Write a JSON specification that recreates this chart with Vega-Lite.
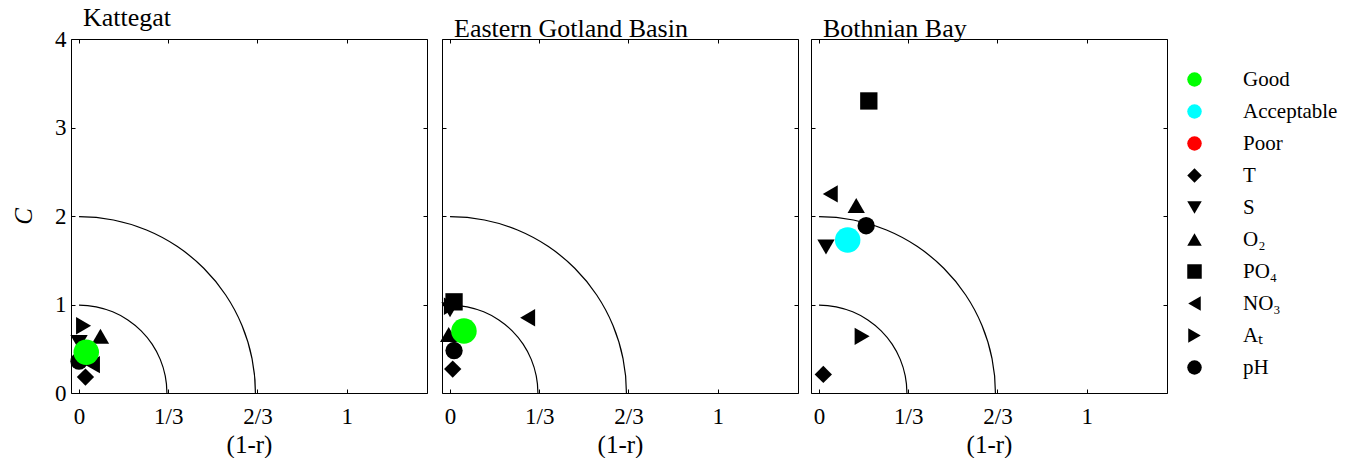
{
  "$schema": "https://vega.github.io/schema/vega-lite/v6.json",
  "padding": {"left": 11, "top": 4, "right": 0, "bottom": 0},
  "background": "white",
  "datasets": {
    "vars": [
      {"basin": "Kattegat", "series": "T", "x": 0.024, "y": 0.18},
      {"basin": "Kattegat", "series": "S", "x": 0.0, "y": 0.57},
      {"basin": "Kattegat", "series": "O₂", "x": 0.08, "y": 0.64},
      {"basin": "Kattegat", "series": "PO₄", "x": 0.03, "y": 0.45},
      {"basin": "Kattegat", "series": "NO₃", "x": 0.05, "y": 0.32},
      {"basin": "Kattegat", "series": "Aₜ", "x": 0.017, "y": 0.76},
      {"basin": "Kattegat", "series": "pH", "x": 0.0, "y": 0.36},
      {"basin": "Eastern Gotland Basin", "series": "T", "x": 0.01, "y": 0.27},
      {"basin": "Eastern Gotland Basin", "series": "S", "x": 0.0, "y": 0.94},
      {"basin": "Eastern Gotland Basin", "series": "O₂", "x": -0.005, "y": 0.66},
      {"basin": "Eastern Gotland Basin", "series": "PO₄", "x": 0.015, "y": 1.03},
      {"basin": "Eastern Gotland Basin", "series": "NO₃", "x": 0.29, "y": 0.85},
      {"basin": "Eastern Gotland Basin", "series": "Aₜ", "x": 0.005, "y": 0.98},
      {"basin": "Eastern Gotland Basin", "series": "pH", "x": 0.015, "y": 0.48},
      {"basin": "Bothnian Bay", "series": "T", "x": 0.016, "y": 0.21},
      {"basin": "Bothnian Bay", "series": "S", "x": 0.026, "y": 1.65},
      {"basin": "Bothnian Bay", "series": "O₂", "x": 0.139, "y": 2.12},
      {"basin": "Bothnian Bay", "series": "PO₄", "x": 0.186, "y": 3.3},
      {"basin": "Bothnian Bay", "series": "NO₃", "x": 0.042, "y": 2.25},
      {"basin": "Bothnian Bay", "series": "Aₜ", "x": 0.161, "y": 0.64},
      {"basin": "Bothnian Bay", "series": "pH", "x": 0.176, "y": 1.89}
    ],
    "status": [
      {"basin": "Kattegat", "series": "Good", "x": 0.027, "y": 0.46},
      {"basin": "Eastern Gotland Basin", "series": "Good", "x": 0.052, "y": 0.7},
      {"basin": "Bothnian Bay", "series": "Acceptable", "x": 0.107, "y": 1.73}
    ],
    "rings": [{"r": 1}, {"r": 2}]
  },
  "hconcat": [
    {
      "title": {"text": "Kattegat"},
      "width": 356, "height": 354,
      "resolve": {"axis": {"x": "independent", "y": "independent"}},
      "layer": [
        {
          "data": {"name": "rings"},
          "mark": {"type": "arc", "theta": 0, "theta2": 1.5707963, "radius2Offset": -1.2, "fill": "#000", "stroke": null},
          "encoding": {
            "x": {"datum": 0, "type": "quantitative", "scale": {"domain": [-0.03, 1.3]}, "axis": null},
            "y": {"datum": 0, "type": "quantitative", "scale": {"domain": [0, 4]}, "axis": null},
            "radius": {"field": "r", "type": "quantitative", "scale": {"type": "linear", "domain": [0, 4], "range": [0, 354], "zero": true}},
            "radius2": {"field": "r"}
          }
        },
        {
          "data": {"name": "vars"},
          "transform": [{"filter": "datum.basin === 'Kattegat'"}],
          "mark": {"type": "point", "filled": true, "size": 300, "opacity": 1},
          "encoding": {
            "x": {"field": "x", "type": "quantitative", "scale": {"domain": [-0.03, 1.3]},
              "axis": {"orient": "bottom", "values": [0, 0.33333333, 0.66666667, 1], "labelExpr": "datum.value < 0.1 ? '0' : datum.value < 0.5 ? '1/3' : datum.value < 0.9 ? '2/3' : '1'", "title": "(1-r)",
                "labelFont": "Liberation Serif", "labelFontSize": 23, "labelColor": "#000000", "labelPadding": 16,
                "titleFont": "Liberation Serif", "titleFontSize": 25, "titleColor": "#000000", "titleFontWeight": "normal", "titlePadding": 4}},
            "y": {"field": "y", "type": "quantitative", "scale": {"domain": [0, 4]},
              "axis": {"orient": "left", "values": [0, 1, 2, 3, 4], "title": "C", "titleFontStyle": "italic",
                "labelFont": "Liberation Serif", "labelFontSize": 23, "labelColor": "#000000", "labelPadding": 9,
                "titleFont": "Liberation Serif", "titleFontSize": 25, "titleColor": "#000000", "titleFontWeight": "normal", "titlePadding": 18}},
            "color": {"field": "series", "type": "nominal",
              "scale": {"domain": ["Good", "Acceptable", "Poor", "T", "S", "O₂", "PO₄", "NO₃", "Aₜ", "pH"], "range": ["#00ff00", "#00ffff", "#ff0000", "#000000", "#000000", "#000000", "#000000", "#000000", "#000000", "#000000"]},
              "legend": {"title": null}},
            "shape": {"field": "series", "type": "nominal",
              "scale": {"domain": ["Good", "Acceptable", "Poor", "T", "S", "O₂", "PO₄", "NO₃", "Aₜ", "pH"], "range": ["circle", "circle", "circle", "diamond", "triangle-down", "triangle-up", "square", "triangle-left", "triangle-right", "circle"]},
              "legend": {"title": null}}
          }
        },
        {
          "data": {"name": "status"},
          "transform": [{"filter": "datum.basin === 'Kattegat'"}],
          "mark": {"type": "point", "filled": true, "size": 650, "opacity": 1},
          "encoding": {
            "x": {"field": "x", "type": "quantitative", "scale": {"domain": [-0.03, 1.3]},
              "axis": {"orient": "top", "values": [0, 0.33333333, 0.66666667, 1], "labels": false, "title": null, "minExtent": 0, "maxExtent": 0}},
            "y": {"field": "y", "type": "quantitative", "scale": {"domain": [0, 4]},
              "axis": {"orient": "right", "values": [0, 1, 2, 3, 4], "labels": false, "title": null, "minExtent": 0, "maxExtent": 0}},
            "color": {"field": "series", "type": "nominal"},
            "shape": {"field": "series", "type": "nominal"}
          }
        }
      ]
    },
    {
      "title": {"text": "Eastern Gotland Basin"},
      "width": 356, "height": 354,
      "resolve": {"axis": {"x": "independent", "y": "independent"}},
      "layer": [
        {
          "data": {"name": "rings"},
          "mark": {"type": "arc", "theta": 0, "theta2": 1.5707963, "radius2Offset": -1.2, "fill": "#000", "stroke": null},
          "encoding": {
            "x": {"datum": 0, "type": "quantitative", "scale": {"domain": [-0.03, 1.3]}, "axis": null},
            "y": {"datum": 0, "type": "quantitative", "scale": {"domain": [0, 4]}, "axis": null},
            "radius": {"field": "r", "type": "quantitative", "scale": {"type": "linear", "domain": [0, 4], "range": [0, 354], "zero": true}},
            "radius2": {"field": "r"}
          }
        },
        {
          "data": {"name": "vars"},
          "transform": [{"filter": "datum.basin === 'Eastern Gotland Basin'"}],
          "mark": {"type": "point", "filled": true, "size": 300, "opacity": 1},
          "encoding": {
            "x": {"field": "x", "type": "quantitative", "scale": {"domain": [-0.03, 1.3]},
              "axis": {"orient": "bottom", "values": [0, 0.33333333, 0.66666667, 1], "labelExpr": "datum.value < 0.1 ? '0' : datum.value < 0.5 ? '1/3' : datum.value < 0.9 ? '2/3' : '1'", "title": "(1-r)",
                "labelFont": "Liberation Serif", "labelFontSize": 23, "labelColor": "#000000", "labelPadding": 16,
                "titleFont": "Liberation Serif", "titleFontSize": 25, "titleColor": "#000000", "titleFontWeight": "normal", "titlePadding": 4}},
            "y": {"field": "y", "type": "quantitative", "scale": {"domain": [0, 4]},
              "axis": {"orient": "left", "values": [0, 1, 2, 3, 4], "labels": false, "title": null, "minExtent": 0, "maxExtent": 0}},
            "color": {"field": "series", "type": "nominal"},
            "shape": {"field": "series", "type": "nominal"}
          }
        },
        {
          "data": {"name": "status"},
          "transform": [{"filter": "datum.basin === 'Eastern Gotland Basin'"}],
          "mark": {"type": "point", "filled": true, "size": 650, "opacity": 1},
          "encoding": {
            "x": {"field": "x", "type": "quantitative", "scale": {"domain": [-0.03, 1.3]},
              "axis": {"orient": "top", "values": [0, 0.33333333, 0.66666667, 1], "labels": false, "title": null, "minExtent": 0, "maxExtent": 0}},
            "y": {"field": "y", "type": "quantitative", "scale": {"domain": [0, 4]},
              "axis": {"orient": "right", "values": [0, 1, 2, 3, 4], "labels": false, "title": null, "minExtent": 0, "maxExtent": 0}},
            "color": {"field": "series", "type": "nominal"},
            "shape": {"field": "series", "type": "nominal"}
          }
        }
      ]
    },
    {
      "title": {"text": "Bothnian Bay"},
      "width": 356, "height": 354,
      "resolve": {"axis": {"x": "independent", "y": "independent"}},
      "layer": [
        {
          "data": {"name": "rings"},
          "mark": {"type": "arc", "theta": 0, "theta2": 1.5707963, "radius2Offset": -1.2, "fill": "#000", "stroke": null},
          "encoding": {
            "x": {"datum": 0, "type": "quantitative", "scale": {"domain": [-0.03, 1.3]}, "axis": null},
            "y": {"datum": 0, "type": "quantitative", "scale": {"domain": [0, 4]}, "axis": null},
            "radius": {"field": "r", "type": "quantitative", "scale": {"type": "linear", "domain": [0, 4], "range": [0, 354], "zero": true}},
            "radius2": {"field": "r"}
          }
        },
        {
          "data": {"name": "vars"},
          "transform": [{"filter": "datum.basin === 'Bothnian Bay'"}],
          "mark": {"type": "point", "filled": true, "size": 300, "opacity": 1},
          "encoding": {
            "x": {"field": "x", "type": "quantitative", "scale": {"domain": [-0.03, 1.3]},
              "axis": {"orient": "bottom", "values": [0, 0.33333333, 0.66666667, 1], "labelExpr": "datum.value < 0.1 ? '0' : datum.value < 0.5 ? '1/3' : datum.value < 0.9 ? '2/3' : '1'", "title": "(1-r)",
                "labelFont": "Liberation Serif", "labelFontSize": 23, "labelColor": "#000000", "labelPadding": 16,
                "titleFont": "Liberation Serif", "titleFontSize": 25, "titleColor": "#000000", "titleFontWeight": "normal", "titlePadding": 4}},
            "y": {"field": "y", "type": "quantitative", "scale": {"domain": [0, 4]},
              "axis": {"orient": "left", "values": [0, 1, 2, 3, 4], "labels": false, "title": null, "minExtent": 0, "maxExtent": 0}},
            "color": {"field": "series", "type": "nominal"},
            "shape": {"field": "series", "type": "nominal"}
          }
        },
        {
          "data": {"name": "status"},
          "transform": [{"filter": "datum.basin === 'Bothnian Bay'"}],
          "mark": {"type": "point", "filled": true, "size": 650, "opacity": 1},
          "encoding": {
            "x": {"field": "x", "type": "quantitative", "scale": {"domain": [-0.03, 1.3]},
              "axis": {"orient": "top", "values": [0, 0.33333333, 0.66666667, 1], "labels": false, "title": null, "minExtent": 0, "maxExtent": 0}},
            "y": {"field": "y", "type": "quantitative", "scale": {"domain": [0, 4]},
              "axis": {"orient": "right", "values": [0, 1, 2, 3, 4], "labels": false, "title": null, "minExtent": 0, "maxExtent": 0}},
            "color": {"field": "series", "type": "nominal"},
            "shape": {"field": "series", "type": "nominal"}
          }
        }
      ]
    }
  ],
  "spacing": 11,
  "config": {
    "font": "Liberation Serif",
    "view": {"stroke": "#000000", "strokeWidth": 1},
    "axis": {
      "grid": false, "domain": false,
      "tickColor": "#000000", "tickSize": -4, "tickWidth": 1,
      "labelFont": "Liberation Serif", "labelFontSize": 23, "labelColor": "#000000",
      "titleFont": "Liberation Serif", "titleFontSize": 25, "titleColor": "#000000", "titleFontWeight": "normal"
    },
    "legend": {
      "labelFont": "Liberation Serif", "labelFontSize": 21, "labelColor": "#000000",
      "symbolSize": 210, "symbolStrokeWidth": 0, "labelOffset": 38, "rowPadding": 10,
      "padding": 30, "offset": -14
    },
    "title": {"anchor": "start", "frame": "group", "font": "Liberation Serif", "fontSize": 26, "fontWeight": "normal", "color": "#000000", "dx": 12, "offset": -3}
  }
}
